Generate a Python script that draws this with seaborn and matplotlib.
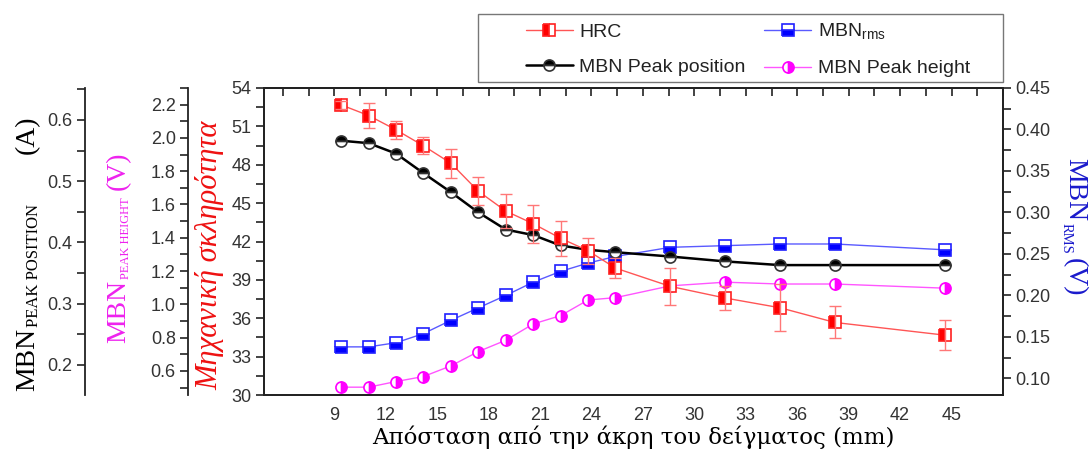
import numpy as np
import pandas as pd
import matplotlib
matplotlib.use("Agg")
import matplotlib.pyplot as plt
import matplotlib.transforms as mtrans
from matplotlib.patches import Rectangle
import seaborn as sns
from matplotlib.ticker import MultipleLocator, FixedLocator, FormatStrFormatter, NullFormatter

# ---- data ----
distance = [9.4, 11.0, 12.6, 14.2, 15.8, 17.4, 19.0, 20.6, 22.2, 23.8, 25.4, 28.6, 31.8, 35.0, 38.2, 44.6]
hrc = [52.68, 51.85, 50.73, 49.48, 48.12, 45.93, 44.38, 43.39, 42.25, 41.28, 39.92, 38.49, 37.58, 36.82, 35.67, 34.68]
hrc_err = [0.3, 0.95, 0.68, 0.67, 1.15, 1.08, 1.36, 1.49, 1.38, 1.0, 0.78, 1.42, 0.94, 1.85, 1.25, 1.17]
mbn_rms = [0.138, 0.138, 0.143, 0.154, 0.170, 0.185, 0.200, 0.216, 0.229, 0.239, 0.247, 0.258, 0.260, 0.262, 0.262, 0.255]
peak_pos = [0.566, 0.562, 0.545, 0.513, 0.482, 0.449, 0.421, 0.412, 0.395, 0.388, 0.384, 0.377, 0.369, 0.363, 0.363, 0.363]
peak_hgt = [0.502, 0.502, 0.536, 0.566, 0.630, 0.716, 0.784, 0.882, 0.932, 1.026, 1.040, 1.111, 1.133, 1.122, 1.122, 1.097]
x_ticks = [9, 12, 15, 18, 21, 24, 27, 30, 33, 36, 39, 42, 45]

df = pd.DataFrame({"x": distance, "hrc": hrc, "rms": mbn_rms, "pos": peak_pos, "hgt": peak_hgt})

sns.set_theme(style="white")
plt.rcParams["font.family"] = ["Liberation Sans", "DejaVu Sans"]

W, H = 1090, 450
fig = plt.figure(figsize=(W / 100, H / 100), dpi=100)
L, R, T, B = 264, 1003, 88, 395
ax = fig.add_axes([L / W, (H - B) / H, (R - L) / W, (B - T) / H])
ax_rms = ax.twinx()
ax_hgt = ax.twinx()
ax_pos = ax.twinx()

tick_col = "#333333"
spine_col = "#222222"
TL = 5.5
for a in (ax, ax_rms, ax_hgt, ax_pos):
    a.set_facecolor("none")
    for s in a.spines.values():
        s.set_color(spine_col)
        s.set_linewidth(1.3)
    a.grid(False)

# main axis (HRC)
ax.set_xlim(4.9, 48)
ax.set_ylim(30, 54)
ax.xaxis.set_major_locator(FixedLocator(x_ticks))
ax.xaxis.set_minor_locator(MultipleLocator(1.5))
ax.yaxis.set_major_locator(MultipleLocator(3))
ax.yaxis.set_minor_locator(MultipleLocator(1.5))
ax.tick_params(axis="x", which="both", direction="out", length=TL, width=1.2, color=spine_col,
               top=False, labelsize=13, labelcolor=tick_col)
ax.tick_params(axis="y", which="both", direction="out", length=TL, width=1.2, color=spine_col,
               labelsize=13, labelcolor=tick_col, left=True)
top = ax.secondary_xaxis("top")
top.xaxis.set_major_locator(FixedLocator(x_ticks))
top.xaxis.set_minor_locator(MultipleLocator(1.5))
top.xaxis.set_major_formatter(NullFormatter())
top.tick_params(axis="x", which="both", direction="in", length=TL, width=1.2, color=spine_col)
top.spines["top"].set_linewidth(1.3)
top.spines["top"].set_color(spine_col)

# right axis (MBN rms)
ax_rms.set_ylim(0.08, 0.45)
ax_rms.yaxis.set_major_locator(MultipleLocator(0.05))
ax_rms.yaxis.set_minor_locator(MultipleLocator(0.025))
ax_rms.yaxis.set_major_formatter(FormatStrFormatter("%.2f"))
ax_rms.tick_params(axis="y", which="both", direction="out", length=TL, width=1.2, color=spine_col,
                   labelsize=13, labelcolor=tick_col, right=True)

# outer left axes
for a, off, lim, maj, mn in [(ax_hgt, -0.1024, (0.455, 2.30), 0.2, 0.1),
                              (ax_pos, -0.242, (0.151, 0.652), 0.1, 0.05)]:
    a.set_ylim(*lim)
    a.spines["left"].set_position(("axes", off))
    a.spines["left"].set_visible(True)
    for s in ("right", "top", "bottom"):
        a.spines[s].set_visible(False)
    a.yaxis.set_ticks_position("left")
    a.yaxis.set_major_locator(MultipleLocator(maj))
    a.yaxis.set_minor_locator(MultipleLocator(mn))
    a.yaxis.set_major_formatter(FormatStrFormatter("%.1f"))
    a.tick_params(axis="y", which="both", direction="out", length=TL, width=1.2, color=spine_col,
                  labelsize=13, labelcolor=tick_col, left=True, right=False)

# ---- series ----
ax.errorbar(distance, hrc, yerr=hrc_err, fmt="none", ecolor="#ff7777", elinewidth=1.0,
            capsize=4, capthick=1.0, zorder=3)
common = dict(markersize=8, markeredgewidth=1.2, markerfacecoloralt="white")
sns.lineplot(data=df, x="x", y="rms", ax=ax_rms, color="#5a5aff", linewidth=1.0, marker="s",
             fillstyle="bottom", markerfacecolor="#0000ff", markeredgecolor="#2020ff",
             label="MBN$_\\mathregular{rms}$", legend=False, **common)
sns.lineplot(data=df, x="x", y="hgt", ax=ax_hgt, color="#ff55ff", linewidth=1.0, marker="o",
             fillstyle="right", markerfacecolor="#ff00ff", markeredgecolor="#ff00ff",
             label="MBN Peak height", legend=False, **common)
sns.lineplot(data=df, x="x", y="pos", ax=ax_pos, color="black", linewidth=1.8, marker="o",
             fillstyle="top", markerfacecolor="black", markeredgecolor="#333333",
             label="MBN Peak position", legend=False, **common)
sns.lineplot(data=df, x="x", y="hrc", ax=ax, color="#ff5555", linewidth=1.0, marker="s",
             fillstyle="left", markerfacecolor="#ff0000", markeredgecolor="#ff2020",
             label="HRC", legend=False, **common)
ax.set_zorder(ax_pos.get_zorder() + 1)
ax.patch.set_visible(False)

for a in (ax, ax_rms, ax_hgt, ax_pos):
    a.set_xlim(4.9, 48)
    a.set_ylabel("")
ax_rms.set_xlabel("")
ax_hgt.set_xlabel("")
ax_pos.set_xlabel("")

# ---- labels ----
serif = ["Liberation Serif", "DejaVu Serif"]
ax.set_xlabel("Απόσταση από την άκρη του δείγματος (mm)", fontsize=16.5,
              family=["DejaVu Serif"], color="black")
ax.xaxis.set_label_coords(0.5, -0.1)

pix = mtrans.IdentityTransform()


def piece(s, x, y_top, size, color, rot):
    fig.text(x, H - y_top, s, transform=pix, fontsize=size, family=serif, color=color,
             rotation=rot, rotation_mode="anchor", ha="left", va="baseline")


# MBN peak position (A)
c = "black"
piece("MBN", 34, 391, 20, c, 90)
piece("PEAK POSITION", 38, 327, 12, c, 90)
piece("(A)", 34, 154, 20, c, 90)
# MBN peak height (V)
c = "#ee22ee"
piece("MBN", 125, 343, 20, c, 90)
piece("PEAK HEIGHT", 129, 279, 9, c, 90)
piece("(V)", 125, 190, 20, c, 90)
# hardness
fig.text(210, H - 255, "Μηχανική σκληρότητα", transform=pix, fontsize=22, family=serif,
         style="italic", color="#ee1111", rotation=90, ha="center", va="center")
# MBN rms (V)
c = "#1a1acc"
piece("MBN", 1068, 158, 20, c, -90)
piece("RMS", 1063, 223, 10.5, c, -90)
piece("(V)", 1068, 258, 20, c, -90)

# ---- legend ----
h1, l1 = ax.get_legend_handles_labels()
h2, l2 = ax_pos.get_legend_handles_labels()
h3, l3 = ax_rms.get_legend_handles_labels()
h4, l4 = ax_hgt.get_legend_handles_labels()
leg = fig.legend(h1 + h2 + h3 + h4, l1 + l2 + l3 + l4, ncol=2, loc="upper left",
                 bbox_to_anchor=(526 / W, (H - 22) / H), fontsize=14,
                 frameon=False, handlelength=2.4, handletextpad=0.35, columnspacing=0.95,
                 borderpad=0, labelspacing=0.9, borderaxespad=0)
for t in leg.get_texts():
    t.set_color("#222222")
fig.patches.append(Rectangle((478 / W, (H - 82) / H), 525 / W, 68 / H, transform=fig.transFigure,
                             fill=False, edgecolor="#777777", linewidth=1.0))

fig.savefig("out.png", dpi=100)
